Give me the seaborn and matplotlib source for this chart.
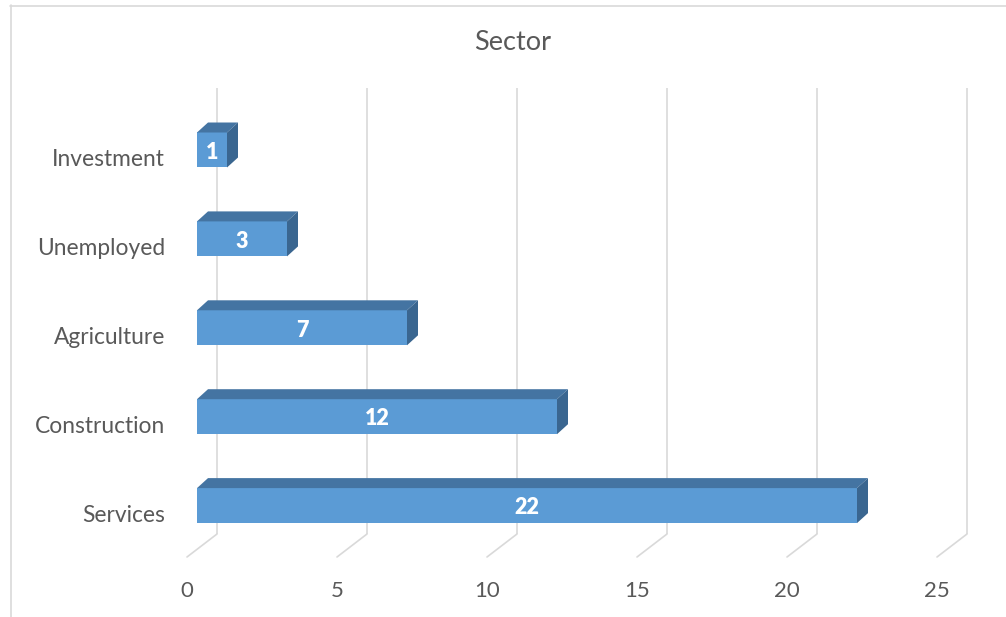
import matplotlib
matplotlib.use("Agg")
import matplotlib.pyplot as plt
import seaborn as sns
import pandas as pd
from matplotlib.patches import Polygon
from matplotlib.lines import Line2D

categories = ["Investment", "Unemployed", "Agriculture", "Construction", "Services"]
values = [1, 3, 7, 12, 22]
tick_values = [0, 5, 10, 15, 20, 25]
title = "Sector"

df = pd.DataFrame({"Sector": categories, "Count": values})

sns.set_theme(style="white")
plt.rcParams["font.family"] = ["Lato", "DejaVu Sans"]

W, H = 1006, 617
fig = plt.figure(figsize=(W / 100, H / 100), dpi=100)
fig.patch.set_facecolor("white")

# pixel geometry of the layout
ppu = 30.0          # pixels per value unit
x0_px = 197.0       # front face of value 0
y0_px = 150.0       # centre of first bar's front face
dy_px = 88.9        # category spacing
ax_l, ax_r, ax_t, ax_b = 170, 995, 80, 570
ax = fig.add_axes([ax_l / W, 1 - ax_b / H, (ax_r - ax_l) / W, (ax_b - ax_t) / H])

front = "#5B9BD5"
top_c = "#4474A2"
side_c = "#3A6690"
grid_c = "#D9D9D9"
text_c = "#595959"

bar_h = 35 / dy_px
ddx = 11 / ppu
ddy = 10 / dy_px

# back-wall gridlines and floor lines
wall_top = (88 - y0_px) / dy_px
wall_bot = (534 - y0_px) / dy_px
floor_front = (557 - y0_px) / dy_px
for v in tick_values:
    xb = v + 20 / ppu
    xf = v - 10 / ppu
    ax.plot([xb, xb], [wall_top, wall_bot], color=grid_c, lw=1.2, zorder=0, solid_capstyle="butt")
    ax.plot([xb, xf], [wall_bot, floor_front], color=grid_c, lw=1.2, zorder=0, solid_capstyle="round")

sns.barplot(data=df, x="Count", y="Sector", orient="h", color=front, saturation=1,
            width=bar_h, ax=ax, zorder=2, linewidth=0)

for i, v in enumerate(values):
    yt = i - bar_h / 2
    yb = i + bar_h / 2
    ax.add_patch(Polygon([(0, yt), (v, yt), (v + ddx, yt - ddy), (ddx, yt - ddy)],
                         closed=True, facecolor=top_c, edgecolor="none", zorder=2))
    ax.add_patch(Polygon([(v, yt), (v + ddx, yt - ddy), (v + ddx, yb - ddy), (v, yb)],
                         closed=True, facecolor=side_c, edgecolor="none", zorder=2))
    ax.text(v / 2, i + 0.025, str(v), ha="center", va="center", color="white",
            fontsize=15.5, fontweight="heavy", zorder=3)

ax.set_xlim((ax_l - x0_px) / ppu, (ax_r - x0_px) / ppu)
ax.set_ylim((ax_b - y0_px) / dy_px, (ax_t - y0_px) / dy_px)

ax.set_xticks([v - 10 / ppu for v in tick_values])
ax.set_xticklabels([str(v) for v in tick_values], fontsize=16, color=text_c)
ax.set_yticks([i + 8 / dy_px for i in range(len(categories))])
ax.set_yticklabels(categories, fontsize=16.4, color=text_c)
ax.tick_params(axis="x", length=0, pad=8)
ax.tick_params(axis="y", length=0, pad=3.6)
ax.set_xlabel("")
ax.set_ylabel("")
for s in ax.spines.values():
    s.set_visible(False)
ax.set_facecolor("none")

fig.text(513 / W, 1 - 42 / H, title, ha="center", va="center", color=text_c, fontsize=19.5)

# chart border (left and top)
fig.add_artist(Line2D([10.5 / W, 10.5 / W], [0, 1 - 5 / H], color=grid_c, lw=1.2))
fig.add_artist(Line2D([10 / W, 1], [1 - 5.5 / H, 1 - 5.5 / H], color=grid_c, lw=1.2))

fig.savefig("out.png", dpi=100, facecolor="white")
